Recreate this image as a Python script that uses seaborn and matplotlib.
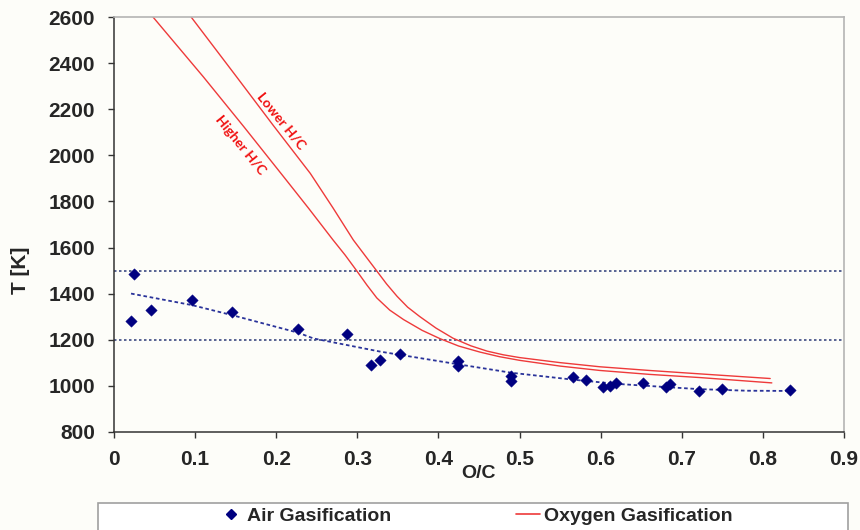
"""
T vs O/C for air and oxygen gasification
"""

import numpy as np
import pandas as pd
import matplotlib
matplotlib.use('Agg')
import matplotlib.pyplot as plt
from matplotlib.lines import Line2D
from matplotlib.patches import Rectangle
import seaborn as sns

# ----------------------------------------------------------------------------
# Data
# ----------------------------------------------------------------------------
air_oc = [0.021, 0.025, 0.045, 0.096, 0.146, 0.227, 0.287, 0.317, 0.328, 0.353,
          0.424, 0.424, 0.490, 0.490, 0.566, 0.582, 0.603, 0.612, 0.619, 0.652,
          0.680, 0.685, 0.721, 0.750, 0.834]
air_t = [1281, 1484, 1330, 1371, 1320, 1245, 1223, 1090, 1111, 1138,
         1107, 1086, 1043, 1022, 1036, 1025, 995, 1000, 1010, 1010,
         993, 1007, 977, 987, 981]

trend_oc = [0.021, 0.096, 0.147, 0.227, 0.246, 0.328, 0.424, 0.490, 0.566,
            0.619, 0.680, 0.721, 0.780, 0.834]
trend_t = [1400, 1350, 1305, 1230, 1205, 1148, 1093, 1056, 1026,
           1008, 994, 985, 978, 977]

higher_oc = [0.040, 0.110, 0.160, 0.209, 0.240, 0.270, 0.285, 0.299, 0.312,
             0.324, 0.340, 0.357, 0.380, 0.402, 0.425, 0.451, 0.475, 0.500,
             0.550, 0.599, 0.660, 0.723, 0.811]
higher_t = [2635, 2342, 2125, 1908, 1770, 1633, 1567, 1500, 1436,
            1381, 1328, 1287, 1240, 1204, 1172, 1146, 1126, 1110,
            1085, 1066, 1049, 1035, 1012]

lower_oc = [0.085, 0.151, 0.196, 0.242, 0.270, 0.295, 0.310, 0.324, 0.336,
            0.349, 0.362, 0.377, 0.397, 0.418, 0.440, 0.460, 0.480, 0.500,
            0.550, 0.599, 0.660, 0.723, 0.809]
lower_t = [2648, 2342, 2132, 1922, 1772, 1633, 1563, 1498, 1442,
           1388, 1341, 1300, 1250, 1206, 1173, 1150, 1134, 1122,
           1100, 1082, 1066, 1051, 1031]

limit_lines = [1500, 1200]

x_ticks = [0, 0.1, 0.2, 0.3, 0.4, 0.5, 0.6, 0.7, 0.8, 0.9]
x_labels = ['0', '0.1', '0.2', '0.3', '0.4', '0.5', '0.6', '0.7', '0.8', '0.9']
y_ticks = [800, 1000, 1200, 1400, 1600, 1800, 2000, 2200, 2400, 2600]

# ----------------------------------------------------------------------------
# Style
# ----------------------------------------------------------------------------
sns.set_theme(style='white')
plt.rcParams['font.family'] = ['Liberation Sans', 'DejaVu Sans']

bg = '#fdfdf9'
navy = '#000080'
red = '#ee3a3a'

fig = plt.figure(figsize=(8.6, 5.3), dpi=100, facecolor=bg)
ax = fig.add_axes([114 / 860, 1 - 431.7 / 530, 730 / 860, 414.4 / 530])
ax.set_facecolor(bg)

# limit lines
for t in limit_lines:
    ax.axhline(t, color='#3c4a82', lw=1.2, ls=(0, (1.5, 1.5)), zorder=1)

# oxygen gasification curves
sns.lineplot(x=higher_oc, y=higher_t, ax=ax, color=red, lw=1.0, sort=False,
             estimator=None, zorder=2)
sns.lineplot(x=lower_oc, y=lower_t, ax=ax, color=red, lw=1.0, sort=False,
             estimator=None, zorder=2)

# trendline of air gasification
sns.lineplot(x=trend_oc, y=trend_t, ax=ax, color='#2a339a', lw=1.3,
             ls=(0, (2, 1.5)), sort=False, estimator=None, zorder=3)

# air gasification points
air_df = pd.DataFrame({'oc': air_oc, 't': air_t})
sns.scatterplot(data=air_df, x='oc', y='t', ax=ax, marker='D', s=34,
                color=navy, edgecolor=navy, linewidth=0.3, zorder=4)

# curve labels
ax.text(0.2055, 2151, 'Lower H/C', color='#f01010', fontsize=10,
        fontweight='bold', family=['Lato', 'DejaVu Sans'], rotation=-51,
        ha='center', va='center', rotation_mode='anchor')
ax.text(0.156, 2045, 'Higher H/C', color='#f01010', fontsize=10,
        fontweight='bold', family=['Lato', 'DejaVu Sans'], rotation=-51,
        ha='center', va='center', rotation_mode='anchor')

# axes
ax.set_xlim(0, 0.9)
ax.set_ylim(800, 2600)
ax.set_xticks(x_ticks)
ax.set_xticklabels(x_labels)
ax.set_yticks(y_ticks)
ax.tick_params(axis='both', direction='out', length=4, width=1.0,
               color='#333333', labelsize=15, pad=9.5, left=True, bottom=True)
for lab in ax.get_xticklabels() + ax.get_yticklabels():
    lab.set_fontweight('bold')

ax.set_xlabel('O/C', fontsize=14, fontweight='bold')
ax.set_ylabel('T [K]', fontsize=15, fontweight='bold')
ax.xaxis.set_label_coords(0.5, -0.08)
ax.yaxis.set_label_coords(-0.115, 0.39)

for side in ['left', 'bottom']:
    ax.spines[side].set_color('#333333')
    ax.spines[side].set_linewidth(1.1)
for side in ['top', 'right']:
    ax.spines[side].set_color('#b4b4b4')
    ax.spines[side].set_linewidth(1.2)
ax.grid(False)

# legend in a box under the chart
fig.patches.append(Rectangle((98 / 860, -0.02), 750 / 860, (530 - 503) / 530 + 0.02,
                             transform=fig.transFigure, facecolor='white',
                             edgecolor='#a0a0a0', lw=1.2, zorder=0))
handles = [
    Line2D([], [], marker='D', color=navy, ls='none', markersize=5.5),
    Line2D([], [], color=red, lw=1.2),
]
fig.legend(handles, ['Air Gasification', 'Oxygen Gasification'],
           loc='center', bbox_to_anchor=(476 / 860, 1 - 516 / 530), ncol=2,
           frameon=False, prop={'weight': 'bold', 'size': 14},
           handlelength=1.25, handletextpad=0.2, columnspacing=6.4)

fig.savefig('out.png', dpi=100, facecolor=bg)
print("saved out.png")
